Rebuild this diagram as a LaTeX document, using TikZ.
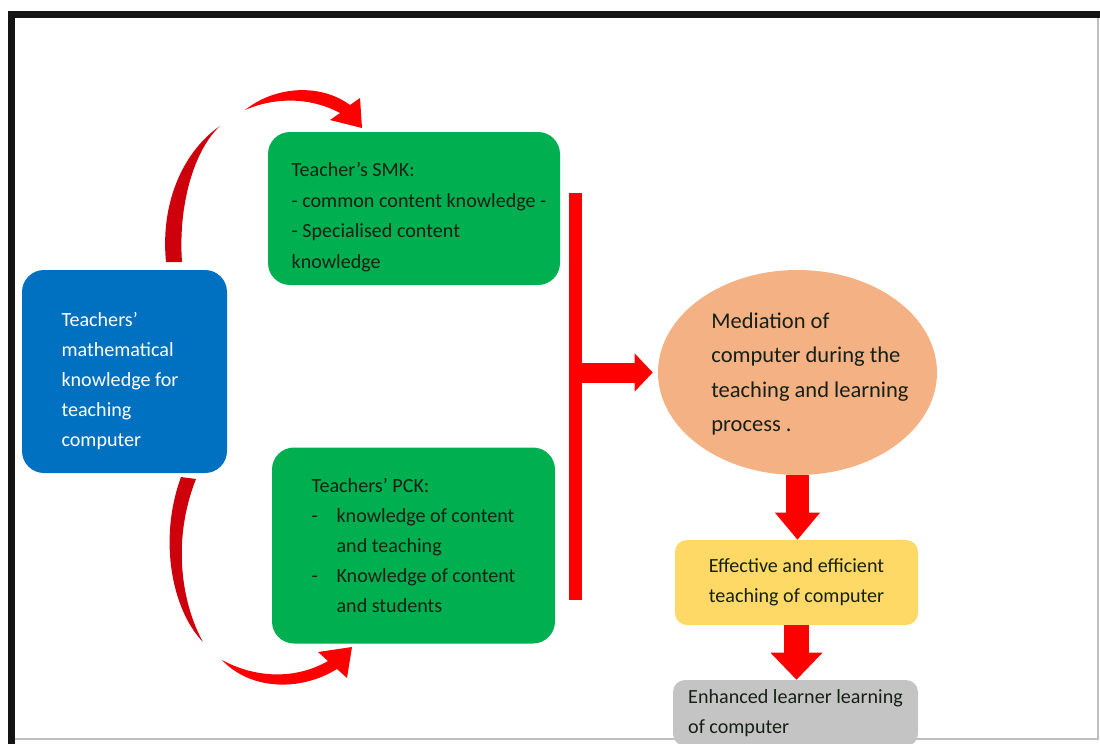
\documentclass[tikz,border=0pt]{standalone}
\usepackage{fontspec}
\setmainfont{Carlito}
\usetikzlibrary{shapes.geometric,arrows.meta,positioning}

\newlength\px
\setlength\px{0.025cm}
\definecolor{tblue}{RGB}{0,112,192}
\definecolor{tgreen}{RGB}{0,176,80}
\definecolor{torange}{RGB}{244,177,131}
\definecolor{tyellow}{RGB}{255,217,102}
\definecolor{tgray}{RGB}{196,196,196}
\definecolor{tred}{RGB}{255,0,0}
\definecolor{tdarkred}{RGB}{205,0,12}
\definecolor{ttext}{RGB}{22,32,22}

\tikzset{
  box/.style={rectangle, rounded corners=22\px, inner sep=0pt, align=left, text=ttext},
  boxtext/.style={align=left, inner sep=0pt, text=ttext},
  blockarrow/.style={draw=tred, line width=#1},
}

\begin{document}
\begin{tikzpicture}[x=0.025cm, y=-0.025cm, font=\fontsize{14.3pt}{21.34pt}\selectfont]
\useasboundingbox (0,0) rectangle (1100,744);
\clip (0,0) rectangle (1100,744);

\fill[black!92] (8,11) rectangle (1100,18);
\fill[black!92] (8,11) rectangle (15,744);
\draw[black!25, line width=1.5\px] (15,739) -- (1098,739) -- (1098,18);

\node[box, fill=tblue, minimum width=205\px, minimum height=203\px] (tmk) at (124.5,371.5) {};
\node[boxtext, text=white] (tmktxt) at (120,381) {Teachers’\\mathematical\\knowledge for\\teaching\\computer};

\node[box, fill=tgreen, minimum width=292\px, minimum height=153\px] (smk) at (414,208.5) {};
\node[boxtext, font=\fontsize{14.3pt}{21.8pt}\selectfont] (smktxt) at (419,217) {Teacher’s SMK:\\- common content knowledge -\\- Specialised content\\knowledge};

\node[box, fill=tgreen, minimum width=283\px, minimum height=196\px] (pck) at (413.5,545.5) {Teachers’ PCK:\\\makebox[25\px][l]{-}knowledge of content\\\hspace*{25\px}and teaching\\\makebox[25\px][l]{-}Knowledge of content\\\hspace*{25\px}and students};

\node[fill=tred, minimum width=13\px, minimum height=407\px, inner sep=0pt] (bar) at (575,396.5) {};

\node[ellipse, fill=torange, minimum width=279\px, minimum height=205\px, inner sep=0pt] (med) at (797.5,372.5) {};
\node[boxtext, font=\fontsize{16pt}{24.2pt}\selectfont] (medtxt) at (810,374) {Mediation of\\computer during the\\teaching and learning\\process .};

\node[box, rounded corners=12\px, fill=tyellow, minimum width=243\px, minimum height=85\px, align=center] (eff) at (796.5,582.5) {Effective and efficient\\teaching of computer};

\node[box, rounded corners=12\px, fill=tgray, minimum width=245\px, minimum height=66\px] (enh) at (795.5,713) {Enhanced learner learning\\of computer};

\draw[blockarrow=0.5cm, -{Triangle[length=0.45cm,width=0.95cm,line width=0pt]}, shorten >=5\px] (bar.east |- med.west) -- (med.west);
\draw[blockarrow=0.575cm, -{Triangle[length=0.675cm,width=1.125cm,line width=0pt]}] (med.south) -- (med.south |- eff.north);
\draw[blockarrow=0.625cm, -{Triangle[length=0.675cm,width=1.3cm,line width=0pt]}] (eff.south) -- (eff.south |- enh.north);

\fill[tdarkred] (166,262) .. controls (160,200) and (185,150) .. (220,126) .. controls (194,150) and (178,205) .. (182,262) -- cycle;
\fill[tred] (245,110) .. controls (275,86) and (320,83) .. (350,105) -- (360,98) -- (362,128) -- (330,120) -- (340,113) .. controls (310,97) and (275,97) .. (245,110) -- cycle;
\fill[tdarkred] (181,477) .. controls (158,540) and (172,610) .. (203,642) .. controls (184,608) and (170,545) .. (196,479) -- cycle;
\fill[tred] (222,660) .. controls (250,690) and (300,692) .. (337,669) -- (347,678) -- (352,647) -- (318,652) -- (328,661) .. controls (295,680) and (255,678) .. (222,660) -- cycle;
\end{tikzpicture}
\end{document}
